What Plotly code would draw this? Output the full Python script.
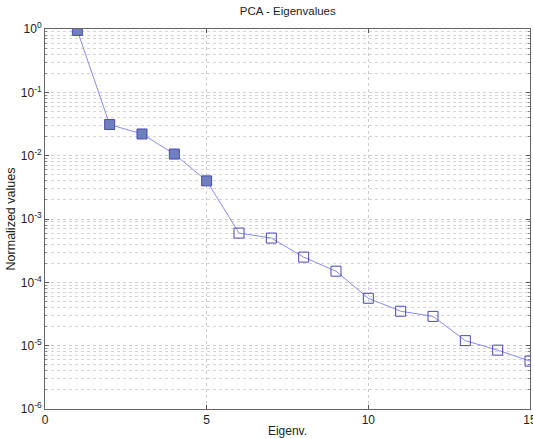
import plotly.graph_objects as go

eig_index = list(range(1, 16))
norm_values = [0.95, 0.031, 0.022, 0.0106, 0.0040, 6.0e-4, 5.0e-4, 2.5e-4, 1.5e-4,
               5.6e-5, 3.5e-5, 2.9e-5, 1.2e-5, 8.5e-6, 5.7e-6]
n_filled = 5
decades = [-6, -5, -4, -3, -2, -1]
y_tick_vals = [1e-6, 1e-5, 1e-4, 1e-3, 1e-2, 1e-1, 1e0]
y_tick_text = ["10<sup>-6</sup>", "10<sup>-5</sup>", "10<sup>-4</sup>", "10<sup>-3</sup>",
               "10<sup>-2</sup>", "10<sup>-1</sup>", "10<sup>0</sup>"]
x_tick_vals = [0, 5, 10, 15]
minor_vals = [m * 10.0 ** d for d in decades for m in range(2, 10)]

line_col = "#8a8af0"
edge_col = "#4848b8"
fill_col = "#6f80bd"

fig = go.Figure()
fig.add_trace(go.Scatter(x=eig_index, y=norm_values, mode="lines",
                         line=dict(color=line_col, width=1), showlegend=False, hoverinfo="skip"))
fig.add_trace(go.Scatter(x=eig_index[:n_filled], y=norm_values[:n_filled], mode="markers",
                         marker=dict(symbol="square", size=10, color=fill_col,
                                     line=dict(color=edge_col, width=1)), showlegend=False))
fig.add_trace(go.Scatter(x=eig_index[n_filled:], y=norm_values[n_filled:], mode="markers",
                         marker=dict(symbol="square-open", size=10, color=edge_col,
                                     line=dict(color=edge_col, width=1)), showlegend=False))

font = dict(family="Liberation Sans, Arial", size=11, color="#222")
fig.update_layout(
    width=533, height=438,
    margin=dict(l=45, r=3, t=29, b=29),
    paper_bgcolor="white", plot_bgcolor="white",
    font=font,
    title=dict(text="PCA - Eigenvalues", x=0.54, xanchor="center", y=0.985, yanchor="top",
               font=dict(family="Liberation Sans, Arial", size=11.5, color="#222")),
    xaxis=dict(range=[0, 15], tickvals=x_tick_vals, ticks="inside", ticklen=4,
               tickcolor="#555", showline=True, linecolor="#666", linewidth=1, mirror="ticks",
               showgrid=True, gridcolor="#cccccc", griddash="dot", gridwidth=1,
               zeroline=False, ticklabeloverflow="allow", automargin=False,
               tickfont=dict(size=12),
               title=dict(text="Eigenv.", standoff=2, font=dict(size=12))),
    yaxis=dict(type="log", range=[-6, 0], tickvals=y_tick_vals, ticktext=y_tick_text,
               ticks="inside", ticklen=4, tickcolor="#555",
               showline=True, linecolor="#666", linewidth=1, mirror="ticks",
               showgrid=True, gridcolor="#cccccc", griddash="dot", gridwidth=1,
               zeroline=False, tickfont=dict(size=12), automargin=False,
               minor=dict(tickvals=minor_vals, ticks="inside", ticklen=2, tickcolor="#888",
                          showgrid=True, gridcolor="#d4d4d4", griddash="dot", gridwidth=1),
               title=dict(text="Normalized values", standoff=2, font=dict(size=12.5))),
)
fig.write_html("out.html")
